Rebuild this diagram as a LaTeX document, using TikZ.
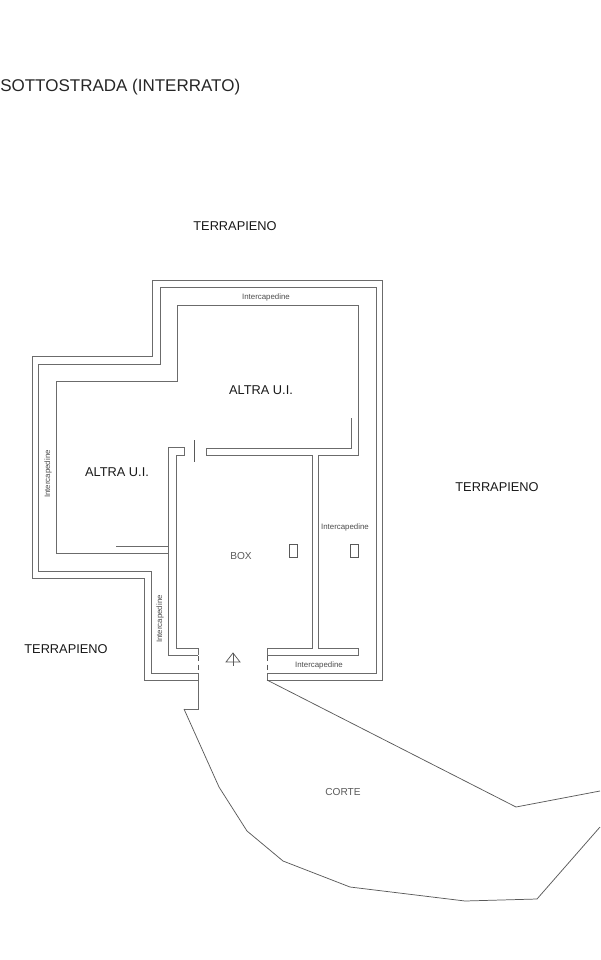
\documentclass[tikz,border=0pt]{standalone}
\usepackage{fontspec}
\setmainfont{Liberation Sans}
\usepackage{tikz}

\begin{document}
\begin{tikzpicture}[x=.75pt,y=-.75pt,
    wall/.style={color=black!58,line width=.72pt,line join=miter},
    thin wall/.style={color=black!65,line width=.55pt},
    big label/.style={font=\fontsize{9.6}{11}\selectfont,black!90,inner sep=0pt},
    small label/.style={font=\fontsize{5.9}{7}\selectfont,black!70,inner sep=0pt},
    mid label/.style={font=\fontsize{7.6}{9}\selectfont,black!65,inner sep=0pt}]
    \useasboundingbox (0,0) rectangle (600,960);

    % outer walls
    \draw[wall] (198,680) -- (144,680) -- (144,578) -- (32,578) -- (32,356) -- (152,356) -- (152,280)
        -- (382,280) -- (382,680) -- (267,680);
    \draw[wall] (198,673) -- (151,673) -- (151,571) -- (38,571) -- (38,364) -- (160,364) -- (160,287)
        -- (376,287) -- (376,673) -- (267,673);

    % inner walls
    \draw[wall] (198,655) -- (168,655) -- (168,553) -- (56,553) -- (56,381) -- (177,381) -- (177,305)
        -- (358,305) -- (358,455) -- (318,455) -- (318,648) -- (358,648) -- (358,655) -- (267,655)
        -- (267,648) -- (312,648) -- (312,455) -- (206,455) -- (206,448) -- (351,448) -- (351,418);
    \draw[wall] (198,648) -- (176,648) -- (176,455) -- (184,455) -- (184,447) -- (168,447) -- (168,553);
    \draw[wall] (168,546) -- (116,546);
    \draw[thin wall] (194,440) -- (194,462);

    % door
    \draw[wall] (198,648) -- (198,655);
    \draw[wall] (267,648) -- (267,655);
    \draw[thin wall,dash pattern=on 4pt off 2.5pt] (198,656) -- (198,673);
    \draw[thin wall,dash pattern=on 4pt off 2.5pt] (267,656) -- (267,673);
    \draw[wall] (198,673) -- (198,709) -- (184,709);
    \draw[wall] (267,673) -- (267,680);

    % north mark
    \draw[thin wall] (233,653) -- (233,666);
    \draw[thin wall] (233,653) -- (226,662) -- (240,662) -- cycle;

    % shafts
    \draw[thin wall] (289,544) rectangle (297,557);
    \draw[thin wall] (350,544) rectangle (358,557);

    % courtyard
    \draw[thin wall] (184,709) -- (219,787) -- (247,831) -- (283,861) -- (350,887) -- (465,901)
        -- (537,899) -- (600,827);
    \draw[thin wall] (267,680) -- (516,807) -- (600,791);

    % labels
    \node[font=\fontsize{12.75}{15}\selectfont,black!85,inner sep=0pt,anchor=west] (title) at (0,87) {SOTTOSTRADA (INTERRATO)};
    \node[big label] (terrapieno-n) at (235,226) {TERRAPIENO};
    \node[big label] (terrapieno-e) at (497,487) {TERRAPIENO};
    \node[big label] (terrapieno-w) at (66,649) {TERRAPIENO};
    \node[big label] (altra-n) at (261,390) {ALTRA U.I.};
    \node[big label] (altra-w) at (117,472) {ALTRA U.I.};
    \node[mid label] (box) at (241,556) {BOX};
    \node[mid label] (corte) at (343,792) {CORTE};
    \node[small label] (int-n) at (266,297) {Intercapedine};
    \node[small label,rotate=90] (int-w) at (48,474) {Intercapedine};
    \node[small label,rotate=90] (int-s) at (160,619) {Intercapedine};
    \node[small label] (int-e) at (345,527) {Intercapedine};
    \node[small label] (int-b) at (319,665) {Intercapedine};
\end{tikzpicture}
\end{document}
